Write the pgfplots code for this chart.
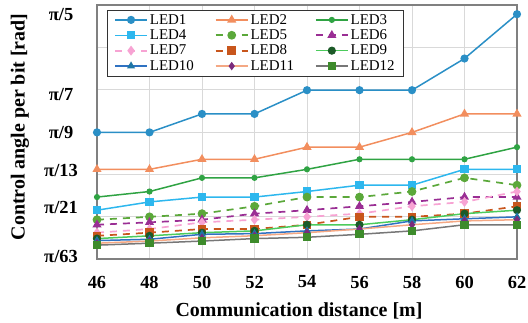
\documentclass[border=0pt]{standalone}
\usepackage{fontspec}
\setmainfont{Liberation Serif}
\usepackage{pgfplots}
\pgfplotsset{compat=1.18}
\definecolor{cA}{HTML}{2A8FC6}
\definecolor{cB}{HTML}{F28E5E}
\definecolor{cC}{HTML}{2FA343}
\definecolor{cD}{HTML}{2DB7EE}
\definecolor{cE}{HTML}{5BA83A}
\definecolor{cF}{HTML}{9A2E94}
\definecolor{cG}{HTML}{F7A3D3}
\definecolor{cH}{HTML}{C8561C}
\definecolor{cIline}{HTML}{4CCB5C}
\definecolor{cImark}{HTML}{1C5A28}
\definecolor{cJ}{HTML}{2F72C2}
\definecolor{cJmark}{HTML}{1E76A6}
\definecolor{cKline}{HTML}{F4A884}
\definecolor{cKmark}{HTML}{7A2A7C}
\definecolor{cLline}{HTML}{777777}
\definecolor{cLmark}{HTML}{3D8B2B}
\begin{document}
\begin{tikzpicture}
\begin{axis}[
  scale only axis, width=420bp, height=254bp,
  xmin=46, xmax=62, ymin=0.05, ymax=0.65,
  clip=false,
  xtick={46,48,...,62},
  ytick={0.627,0.438,0.348,0.260,0.171,0.057},
  yticklabels={\textbf{π/5},\textbf{π/7},\textbf{π/9},\textbf{π/13},\textbf{π/21},\textbf{π/63}},
  minor ytick={0.15,0.25,0.35,0.45,0.55},
  xmajorgrids, yminorgrids, ymajorgrids=false,
  grid style={draw=black!15, line width=0.8bp},
  minor grid style={draw=black!15, line width=0.8bp},
  major tick length=0pt, minor tick length=0pt,
  axis line style={draw=black!50, line width=1.3bp},
  /pgf/number format/assume math mode=true,
  ticklabel style={font=\bfseries\fontsize{18.5}{20}\selectfont},
  xticklabel style={anchor=center, yshift=-23bp},
  yticklabel style={anchor=center, xshift=-36bp},
  xlabel={Communication distance [m]},
  ylabel={Control angle per bit [rad]},
  every axis x label/.style={at={(axis description cs:0.5,0)}, anchor=center, yshift=-52bp, xshift=-8bp, font=\bfseries\fontsize{20}{22}\selectfont},
  every axis y label/.style={at={(axis description cs:0,0.52)}, anchor=center, xshift=-77bp, rotate=90, font=\bfseries\fontsize{20}{22}\selectfont},
  legend columns=3,
  legend cell align=left,
  legend image code/.code={\draw[mark repeat=2,mark phase=2,#1] plot coordinates {(0bp,0bp) (16bp,0bp) (32bp,0bp)};},
  legend style={at={(rel axis cs:0,1)}, anchor=north west, xshift=10bp, yshift=-5bp,
    draw=black!80, fill=white,
    font=\fontsize{15}{16}\selectfont,
    inner xsep=7bp, inner ysep=2bp,
    /tikz/every even column/.append style={column sep=19bp}},
]
\addplot[cA, line width=1.5bp, mark=*, mark size=3.3bp] coordinates {
(46,0.3491)(48,0.3491)(50,0.3927)(52,0.3927)(54,0.4488)(56,0.4488)(58,0.4488)(60,0.5236)(62,0.6283)};
\addlegendentry{LED1}
\addplot[cB, line width=1.5bp, mark=triangle*, mark size=3.8bp] coordinates {
(46,0.2618)(48,0.2618)(50,0.2856)(52,0.2856)(54,0.3142)(56,0.3142)(58,0.3491)(60,0.3927)(62,0.3927)};
\addlegendentry{LED2}
\addplot[cC, line width=1.5bp, mark=*, mark size=2.3bp] coordinates {
(46,0.1963)(48,0.2094)(50,0.2417)(52,0.2417)(54,0.2618)(56,0.2856)(58,0.2856)(60,0.2856)(62,0.3142)};
\addlegendentry{LED3}
\addplot[cD, line width=1.5bp, mark=square*, mark size=3.3bp] coordinates {
(46,0.1653)(48,0.1848)(50,0.1963)(52,0.1963)(54,0.2094)(56,0.2244)(58,0.2244)(60,0.2618)(62,0.2618)};
\addlegendentry{LED4}
\addplot[cE, line width=1.7bp, dash pattern=on 7bp off 6bp, mark=*, mark size=3.5bp, mark options={solid}] coordinates {
(46,0.1428)(48,0.1496)(50,0.1571)(52,0.1745)(54,0.1963)(56,0.1963)(58,0.2094)(60,0.2417)(62,0.2244)};
\addlegendentry{LED5}
\addplot[cF, line width=1.7bp, dash pattern=on 7bp off 6bp, mark=triangle*, mark size=3.6bp, mark options={solid}] coordinates {
(46,0.1309)(48,0.1366)(50,0.1428)(52,0.1571)(54,0.1653)(56,0.1745)(58,0.1848)(60,0.1963)(62,0.1963)};
\addlegendentry{LED6}
\addplot[cG, line width=1.7bp, dash pattern=on 7bp off 6bp, mark=diamond*, mark size=3.6bp, mark options={solid}] coordinates {
(46,0.1122)(48,0.1208)(50,0.1366)(52,0.1428)(54,0.1496)(56,0.1571)(58,0.1745)(60,0.1848)(62,0.2094)};
\addlegendentry{LED7}
\addplot[cH, line width=1.7bp, dash pattern=on 7bp off 6bp, mark=square*, mark size=3.4bp, mark options={solid}] coordinates {
(46,0.1047)(48,0.1122)(50,0.1208)(52,0.1208)(54,0.1309)(56,0.1496)(58,0.1496)(60,0.1571)(62,0.1745)};
\addlegendentry{LED8}
\addplot[cIline, line width=1.5bp, mark=*, mark size=3.3bp, mark options={fill=cImark, draw=cImark}] coordinates {
(46,0.0982)(48,0.1047)(50,0.1122)(52,0.1164)(54,0.1309)(56,0.1309)(58,0.1428)(60,0.1571)(62,0.1653)};
\addlegendentry{LED9}
\addplot[cJ, line width=1.5bp, mark=triangle*, mark size=3.2bp, mark options={fill=cJmark, draw=cJmark}] coordinates {
(46,0.0935)(48,0.0966)(50,0.1083)(52,0.1100)(54,0.1164)(56,0.1208)(58,0.1400)(60,0.1450)(62,0.1496)};
\addlegendentry{LED10}
\addplot[cKline, line width=1.5bp, mark=diamond*, mark size=3bp, mark options={fill=cKmark, draw=cKmark}] coordinates {
(46,0.0873)(48,0.0924)(50,0.1000)(52,0.1050)(54,0.1122)(56,0.1208)(58,0.1309)(60,0.1400)(62,0.1428)};
\addlegendentry{LED11}
\addplot[cLline, line width=1.5bp, mark=square*, mark size=3.4bp, mark options={fill=cLmark, draw=cLmark}] coordinates {
(46,0.0827)(48,0.0873)(50,0.0924)(52,0.0982)(54,0.1013)(56,0.1083)(58,0.1164)(60,0.1309)(62,0.1309)};
\addlegendentry{LED12}
\end{axis}
\pgfresetboundingbox
\path[use as bounding box] (-97bp,-64bp) rectangle (431bp,259bp);
\end{tikzpicture}
\end{document}
